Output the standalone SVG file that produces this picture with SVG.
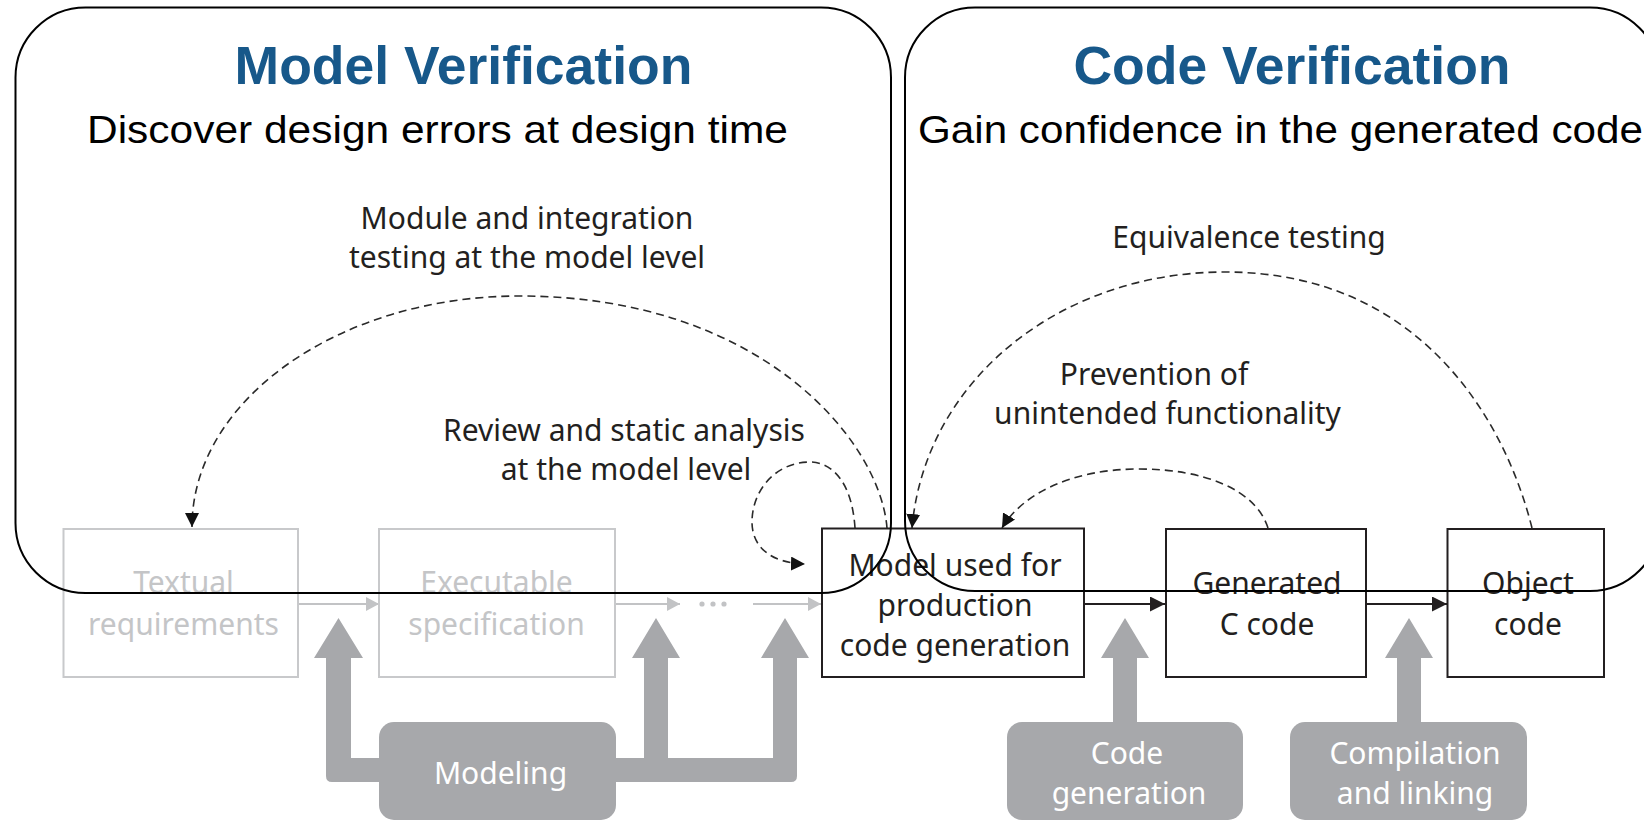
<svg xmlns="http://www.w3.org/2000/svg" width="1644" height="821" viewBox="0 0 1644 821">
  <style>
    .frame { fill: none; stroke: #000; stroke-width: 2; }
    .title { font-family: "Liberation Sans", Arial, sans-serif; font-weight: bold; font-size: 53.5px; fill: #17588a; text-anchor: middle; }
    .subtitle { font-family: "Liberation Sans", Arial, sans-serif; font-size: 39px; fill: #000; }
    .lbl { font-family: "Noto Sans", "Open Sans", sans-serif; font-size: 30px; fill: #231f20; text-anchor: middle; }
    .faded-box { fill: #fff; stroke: #c8c9cb; stroke-width: 2; }
    .faded-txt { font-family: "Noto Sans", "Open Sans", sans-serif; font-size: 30px; fill: #c4c5c7; text-anchor: middle; }
    .box { fill: #fff; stroke: #231f20; stroke-width: 2; }
    .step { fill: #a7a8ab; }
    .step-txt { font-family: "Noto Sans", "Open Sans", sans-serif; font-size: 30px; fill: #fff; text-anchor: middle; }
    .dashed { fill: none; stroke: #2a2a2a; stroke-width: 1.6; stroke-dasharray: 8 5; }
    .flow { fill: none; stroke: #231f20; stroke-width: 1.8; }
    .flow-faded { fill: none; stroke: #c2c3c5; stroke-width: 1.8; }
  </style>
  <defs>
    <marker id="head" markerUnits="userSpaceOnUse" markerWidth="16" markerHeight="16" refX="15" refY="7.5" orient="auto">
      <path d="M0,0 L15,7.5 L0,15 Z" fill="#231f20"/>
    </marker>
    <marker id="head-dash" markerUnits="userSpaceOnUse" markerWidth="16" markerHeight="16" refX="14" refY="7" orient="auto">
      <path d="M0,0 L14,7 L0,14 Z" fill="#111"/>
    </marker>
    <marker id="head-faded" markerUnits="userSpaceOnUse" markerWidth="16" markerHeight="16" refX="13" refY="7" orient="auto">
      <path d="M0,0 L13,7 L0,14 Z" fill="#c2c3c5"/>
    </marker>
  </defs>

  <rect width="1644" height="821" fill="#fff"/>

  <!-- connectors -->
  <g id="connectors">
    <!-- modeling supply arrows -->
    <path class="step" d="M338.5 618 L363 658 L351 658 L351 758 L644 758 L644 658 L632 658 L656 618 L680 658 L668 658 L668 758 L773 758 L773 658 L761 658 L785 618 L809 658 L797 658 L797 776 Q797 782 791 782 L332 782 Q326 782 326 776 L326 658 L314 658 Z"/>
    <!-- code generation arrow -->
    <path class="step" d="M1125 618 L1149 658 L1137 658 L1137 724 L1113 724 L1113 658 L1101 658 Z"/>
    <!-- compilation arrow -->
    <path class="step" d="M1409 618 L1433 658 L1421 658 L1421 724 L1397 724 L1397 658 L1385 658 Z"/>

    <!-- faded process flow -->
    <line class="flow-faded" x1="298" y1="604" x2="379" y2="604" marker-end="url(#head-faded)"/>
    <line class="flow-faded" x1="615" y1="604" x2="680" y2="604" marker-end="url(#head-faded)"/>
    <g fill="#c2c3c5">
      <circle cx="702" cy="604" r="2.6"/>
      <circle cx="713" cy="604" r="2.6"/>
      <circle cx="724" cy="604" r="2.6"/>
    </g>
    <line class="flow-faded" x1="753" y1="604" x2="821" y2="604" marker-end="url(#head-faded)"/>

    <!-- production flow -->
    <line class="flow" x1="1084" y1="604" x2="1165" y2="604" marker-end="url(#head)"/>
    <line class="flow" x1="1366" y1="604" x2="1447" y2="604" marker-end="url(#head)"/>

    <!-- verification loops -->
    <path class="dashed" d="M887 528 C880 440 760 296 520 296 C339 296 192 400 192 527" marker-end="url(#head-dash)"/>
    <path class="dashed" d="M855 528 C852 482 832 462 810 462 C776 462 752 490 752 522 C752 548 772 563 805 564" marker-end="url(#head-dash)"/>
    <path class="dashed" d="M1532 528 C1505 420 1420 272 1225 272 C1060 272 925 380 912 528" marker-end="url(#head-dash)"/>
    <path class="dashed" d="M1268 528 C1256 490 1205 469 1139 469 C1072 469 1022 494 1002 528" marker-end="url(#head-dash)"/>

    <text class="lbl" x="527" y="229">Module and integration</text>
    <text class="lbl" x="527" y="268">testing at the model level</text>
    <text class="lbl" x="624" y="441">Review and static analysis</text>
    <text class="lbl" x="626" y="480">at the model level</text>
    <text class="lbl" x="1249" y="248">Equivalence testing</text>
    <text class="lbl" x="1154" y="385">Prevention of</text>
    <text class="lbl" x="1167.5" y="424">unintended functionality</text>
  </g>

  <!-- process nodes -->
  <g id="textual-requirements">
    <rect class="faded-box" x="63.5" y="529" width="234.5" height="148"/>
    <text class="faded-txt" x="183.5" y="593">Textual</text>
    <text class="faded-txt" x="183.5" y="635">requirements</text>
  </g>
  <g id="executable-specification">
    <rect class="faded-box" x="379" y="529" width="236" height="148"/>
    <text class="faded-txt" x="496.5" y="593">Executable</text>
    <text class="faded-txt" x="496.5" y="635">specification</text>
  </g>
  <g id="production-model">
    <rect class="box" x="822" y="528.5" width="262" height="148.5"/>
    <text class="lbl" x="955" y="576">Model used for</text>
    <text class="lbl" x="955" y="616">production</text>
    <text class="lbl" x="955" y="656">code generation</text>
  </g>
  <g id="generated-c-code">
    <rect class="box" x="1166" y="529" width="200" height="148"/>
    <text class="lbl" x="1267" y="594">Generated</text>
    <text class="lbl" x="1267" y="635">C code</text>
  </g>
  <g id="object-code">
    <rect class="box" x="1447.5" y="529" width="156.5" height="148"/>
    <text class="lbl" x="1528" y="594">Object</text>
    <text class="lbl" x="1528" y="635">code</text>
  </g>

  <!-- activity nodes -->
  <g id="modeling">
    <rect class="step" x="379" y="722" width="237" height="98" rx="15"/>
    <text class="step-txt" x="500.5" y="784">Modeling</text>
  </g>
  <g id="code-generation">
    <rect class="step" x="1007" y="722" width="236" height="98" rx="15"/>
    <text class="step-txt" x="1127" y="764">Code</text>
    <text class="step-txt" x="1129" y="804">generation</text>
  </g>
  <g id="compilation-linking">
    <rect class="step" x="1290" y="722" width="237" height="98" rx="15"/>
    <text class="step-txt" x="1415" y="764">Compilation</text>
    <text class="step-txt" x="1415" y="804">and linking</text>
  </g>

  <!-- verification regions -->
  <g id="model-verification">
    <rect class="frame" x="15.5" y="7.5" width="875.5" height="585.5" rx="70" ry="70"/>
    <text class="title" x="463.5" y="84">Model Verification</text>
    <text class="subtitle" x="87" y="142.5" textLength="701" lengthAdjust="spacingAndGlyphs">Discover design errors at design time</text>
  </g>
  <g id="code-verification">
    <rect class="frame" x="905" y="7.5" width="755" height="583.5" rx="70" ry="70"/>
    <text class="title" x="1292" y="84">Code Verification</text>
    <text class="subtitle" x="918" y="142.5" textLength="725" lengthAdjust="spacingAndGlyphs">Gain confidence in the generated code</text>
  </g>
</svg>
